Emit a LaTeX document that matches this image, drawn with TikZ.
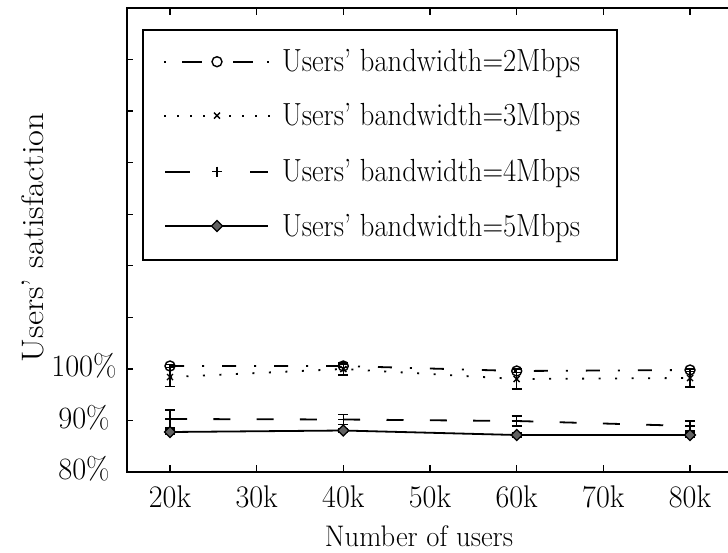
\documentclass[tikz,border=0pt]{standalone}
\usepackage{fontspec}
\usepackage{graphicx}
\usetikzlibrary{shapes.geometric}
% text stretched to the printed proportions
\newcommand\sctext[3]{\scalebox{#1}[#2]{#3}}

\begin{document}
\begin{tikzpicture}[x=1pt,y=-1pt,
  every node/.style={inner sep=0pt, outer sep=0pt, font=\fontsize{32}{38}\selectfont},
  axisline/.style={line width=1.8pt},
  tickline/.style={line width=1.3pt},
  dline/.style={line width=1.8pt, line cap=butt},
  dashdotline/.style={dline, dash pattern=on 14pt off 18pt on 2pt off 18pt},
  dotline/.style={dline, dash pattern=on 2pt off 14.5pt},
  dashline/.style={dline, dash pattern=on 17pt off 26.3pt},
  errbar/.style={line width=1.4pt},
  mark line/.style={line width=1.4pt},
  mcirc/.style={circle, draw, line width=1.4pt, minimum size=10pt},
  mdiam/.style={diamond, draw, fill=black!62, line width=1.2pt, minimum size=11pt},
]
\useasboundingbox (0,0) rectangle (728,552);

% ---- axes frame and ticks ----
\draw[axisline] (728,8) -- (127,8) -- (127,472) -- (728,472);
\foreach \k in {0,...,9}
  \draw[tickline] (127,472-\k*51.556) -- ++(6,0);
\foreach \k in {0,...,6} {
  \draw[tickline] (170+\k*86.667,472) -- ++(0,-7);
  \draw[tickline] (170+\k*86.667,8) -- ++(0,7);
}

% ---- tick labels ----
\foreach \k/\t in {0/20k,1/30k,2/40k,3/50k,4/60k,5/70k,6/80k}
  \node[anchor=base] (xt\k) at (170+\k*86.667,507) {\sctext{0.94}{0.98}{\t}};
\node[anchor=base] (yt100) at (84,376.5) {\sctext{0.95}{0.97}{100\%}};
\node[anchor=base] (yt90)  at (84,428)   {\sctext{0.95}{0.97}{90\%}};
\node[anchor=base] (yt80)  at (84,479.5) {\sctext{0.95}{0.97}{80\%}};

% ---- axis titles ----
\node[anchor=base] (xlab) at (419,546.5) {\sctext{0.895}{0.93}{Number of users}};
\node[rotate=90, anchor=base] (ylab) at (43,237.5) {\sctext{1.08}{0.97}{Users' satisfaction}};

% ---- data: 2 Mbps ----
\draw[dashdotline] (170,366) -- (343.3,366) -- (516.7,371) -- (690,370);
% ---- data: 3 Mbps ----
\draw[dotline] (170,377) -- (343.3,369) -- (516.7,379) -- (690,378);
% ---- data: 4 Mbps ----
\draw[dashline] (170,419) -- (343.3,419.5) -- (516.7,421) -- (690,426);
% ---- data: 5 Mbps ----
\draw[dline] (170,432) -- (343.3,430.5) -- (516.7,435) -- (690,435);

% error bars
\foreach \x/\y/\e in {170/366/1.5, 343.3/366/1.5, 516.7/371/1.5, 690/370/1.5,
                      170/377/9.5, 343.3/369/6, 516.7/379/10, 690/378/9,
                      170/419/9, 343.3/419.5/5, 516.7/421/5, 690/426/5,
                      170/432/2, 343.3/430.5/2, 516.7/435/2, 690/435/2} {
  \draw[errbar] (\x,\y-\e) -- (\x,\y+\e);
  \draw[errbar] (\x-5,\y-\e) -- (\x+5,\y-\e);
  \draw[errbar] (\x-5,\y+\e) -- (\x+5,\y+\e);
}

% markers
\foreach \x/\y [count=\i] in {170/366, 343.3/366, 516.7/371, 690/370}
  \node[mcirc] (o\i) at (\x,\y) {};
\foreach \x/\y in {170/377, 343.3/369, 516.7/379, 690/378}
  \draw[mark line] (\x-3,\y-3) -- (\x+3,\y+3) (\x-3,\y+3) -- (\x+3,\y-3);
\foreach \x/\y in {170/419, 343.3/419.5, 516.7/421, 690/426}
  \draw[mark line] (\x-5,\y) -- (\x+5,\y) (\x,\y-5) -- (\x,\y+5);
\foreach \x/\y [count=\i] in {170/432, 343.3/430.5, 516.7/435, 690/435}
  \node[mdiam] (d\i) at (\x,\y) {};

% ---- legend ----
\draw[line width=1.5pt, fill=white] (143,30) rectangle (617,260);
% entry 1: dash-dot with circle
\draw[dline] (164,61.7) -- (166,61.7) (182,61.7) -- (202,61.7)
             (233,61.7) -- (253,61.7) (267,61.7) -- (269,61.7);
\node[mcirc] (lo) at (217,61.7) {};
\node[anchor=base west] (lt1) at (282,71.7) {\sctext{0.894}{1}{Users' bandwidth=2Mbps}};
% entry 2: dotted with cross
\foreach \x in {165,178,191,204,230,243,256,269}
  \draw[dline] (\x-1,115.7) -- (\x+1,115.7);
\draw[mark line] (214,112.7) -- (220,118.7) (214,118.7) -- (220,112.7);
\node[anchor=base west] (lt2) at (282,125.7) {\sctext{0.894}{1}{Users' bandwidth=3Mbps}};
% entry 3: dashed with plus
\draw[dline] (165,171.7) -- (190,171.7) (250,171.7) -- (268,171.7);
\draw[mark line] (212,171.7) -- (222,171.7) (217,166.7) -- (217,176.7);
\node[anchor=base west] (lt3) at (282,181.7) {\sctext{0.894}{1}{Users' bandwidth=4Mbps}};
% entry 4: solid with diamond
\draw[dline] (165,226) -- (268,226);
\node[mdiam] (ld) at (217,226) {};
\node[anchor=base west] (lt4) at (282,236) {\sctext{0.894}{1}{Users' bandwidth=5Mbps}};
\end{tikzpicture}
\end{document}
